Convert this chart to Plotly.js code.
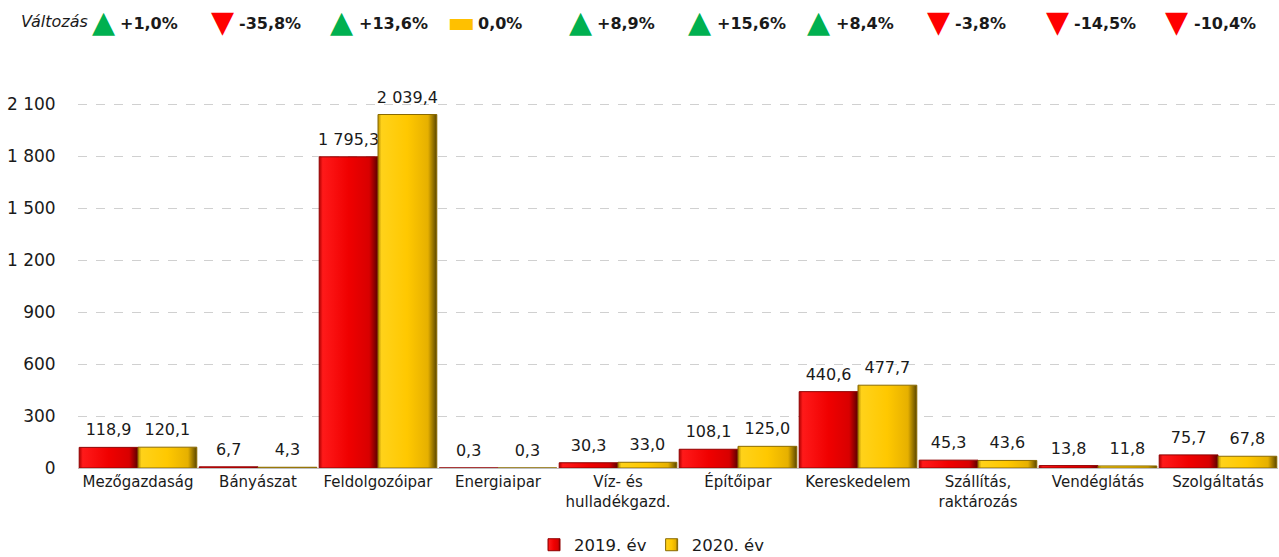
<!DOCTYPE html>
<html><head><meta charset="utf-8">
<script src="https://cdn.plot.ly/plotly-3.0.1.min.js"></script>
<style>html,body{margin:0;padding:0;background:#fff;}#chart{width:1279px;height:557px;}</style>
</head><body><div id="chart"></div>
<script>
const categories = ["Mezőgazdaság","Bányászat","Feldolgozóipar","Energiaipar","Víz- és<br>hulladékgazd.","Építőipar","Kereskedelem","Szállítás,<br>raktározás","Vendéglátás","Szolgáltatás"];
const values2019 = [118.9, 6.7, 1795.3, 0.3, 30.3, 108.1, 440.6, 45.3, 13.8, 75.7];
const values2020 = [120.1, 4.3, 2039.4, 0.3, 33.0, 125.0, 477.7, 43.6, 11.8, 67.8];
const changeLabels = ["+1,0%","-35,8%","+13,6%","0,0%","+8,9%","+15,6%","+8,4%","-3,8%","-14,5%","-10,4%"];
const seriesNames = ["2019. év","2020. év"];
const yTicks = [0,300,600,900,1200,1500,1800,2100];

const W=1279,H=557,ML=78,MR=1,MT=85,MB=89;
const PW=W-ML-MR, PH=H-MT-MB;
const px2x = p => (p-ML)/PW;
const py2y = p => 1 + (MT-p)/PH;

const FONT = "DejaVu Sans, sans-serif";
const traces = [
  {type:'bar', name:seriesNames[0], x:categories, y:values2019,
   marker:{color:'#f00000', line:{color:'#900000', width:1}},
   texttemplate:'%{y:,.1f}', textposition:'outside', cliponaxis:false, constraintext:'none',
   textfont:{size:16,color:'#1a1a1a',family:FONT}, hoverinfo:'skip'},
  {type:'bar', name:seriesNames[1], x:categories, y:values2020,
   marker:{color:'#ffc800', line:{color:'#8a6a00', width:1}},
   texttemplate:'%{y:,.1f}', textposition:'outside', cliponaxis:false, constraintext:'none',
   textfont:{size:16,color:'#1a1a1a',family:FONT}, hoverinfo:'skip'}
];

const annotations = [];
annotations.push({xref:'paper',yref:'paper',x:px2x(19),y:py2y(22),xanchor:'left',yanchor:'middle',
  text:'<i>Változás</i>',showarrow:false,font:{size:16,color:'#1a1a1a',family:FONT}});
changeLabels.forEach((lab,i)=>{
  const cx = 103 + i*119.3;
  let sym, col;
  if (lab.startsWith('+')) {sym='▲'; col='#00b050';}
  else if (lab.startsWith('-')) {sym='▼'; col='#ff0000';}
  else {sym='▬'; col='#ffc000';}
  annotations.push({xref:'paper',yref:'paper',x:px2x(cx),y:py2y(22),xanchor:'center',yanchor:'middle',
    text:sym,showarrow:false,font:{size:30,color:col,family:'DejaVu Sans'}});
  annotations.push({xref:'paper',yref:'paper',x:px2x(cx+15),y:py2y(23),xanchor:'left',yanchor:'middle',
    text:'<b>'+lab+'</b>',showarrow:false,font:{size:16,color:'#1a1a1a',family:FONT}});
});

const layout = {
  width:W,height:H,margin:{l:ML,r:MR,t:MT,b:MB,autoexpand:false},
  paper_bgcolor:'#fff',plot_bgcolor:'#fff',
  separators:', ',
  barmode:'group',bargap:0.02,bargroupgap:0,
  font:{family:FONT,color:'#1a1a1a'},
  showlegend:true,
  legend:{orientation:'h',x:px2x(652),xanchor:'center',y:py2y(545),yanchor:'middle',
    font:{size:16.5,color:'#1a1a1a',family:FONT},itemwidth:30,tracegroupgap:0},
  xaxis:{tickfont:{size:15,color:'#1a1a1a'},showgrid:false,showline:true,linecolor:'#bfbfbf',linewidth:1,
    ticks:'',automargin:false},
  yaxis:{range:[0,PH/(364/2100)],tickvals:yTicks,tickformat:',d',tickfont:{size:17,color:'#1a1a1a'},
    showgrid:true,gridcolor:'#d0d0d0',griddash:'dash',gridwidth:1,zeroline:true,zerolinecolor:'#bfbfbf',
    ticks:'outside',ticklen:18,tickcolor:'rgba(0,0,0,0)',showline:false,automargin:false},
  annotations:annotations
};

function addGradients(gd){
  const svg = gd.querySelector('svg.main-svg');
  const NS='http://www.w3.org/2000/svg';
  let defs = svg.querySelector('defs');
  if(!defs){defs=document.createElementNS(NS,'defs');svg.insertBefore(defs,svg.firstChild);}
  const specs = {
    gRed:[[0,'#b00000'],[0.06,'#ff1a1a'],[0.5,'#f00000'],[0.85,'#d80000'],[1,'#5a0000']],
    gYel:[[0,'#b89000'],[0.06,'#ffd21a'],[0.5,'#ffc800'],[0.85,'#e6b000'],[1,'#5a4600']]
  };
  Object.keys(specs).forEach(id=>{
    const lg=document.createElementNS(NS,'linearGradient');
    lg.setAttribute('id',id);lg.setAttribute('x1','0');lg.setAttribute('x2','1');lg.setAttribute('y1','0');lg.setAttribute('y2','0');
    specs[id].forEach(([o,c])=>{const s=document.createElementNS(NS,'stop');s.setAttribute('offset',o);s.setAttribute('stop-color',c);lg.appendChild(s);});
    defs.appendChild(lg);
  });
  const ids=['gRed','gYel'];
  gd.querySelectorAll('.barlayer .trace.bars').forEach((tr,i)=>{
    tr.querySelectorAll('.point path').forEach(p=>{p.style.fill='url(#'+ids[i]+')';});
    tr.querySelectorAll('.point text').forEach(t=>{
      const tf=t.getAttribute('transform')||'';
      t.setAttribute('transform','translate(0,-5) '+tf);
    });
  });
  gd.querySelectorAll('.legend .traces').forEach((tr,i)=>{
    tr.querySelectorAll('.legendpoints path').forEach(p=>{p.style.fill='url(#'+ids[i]+')';});
  });
}
Plotly.newPlot('chart',traces,layout,{staticPlot:true,displayModeBar:false}).then(addGradients);
</script></body></html>
